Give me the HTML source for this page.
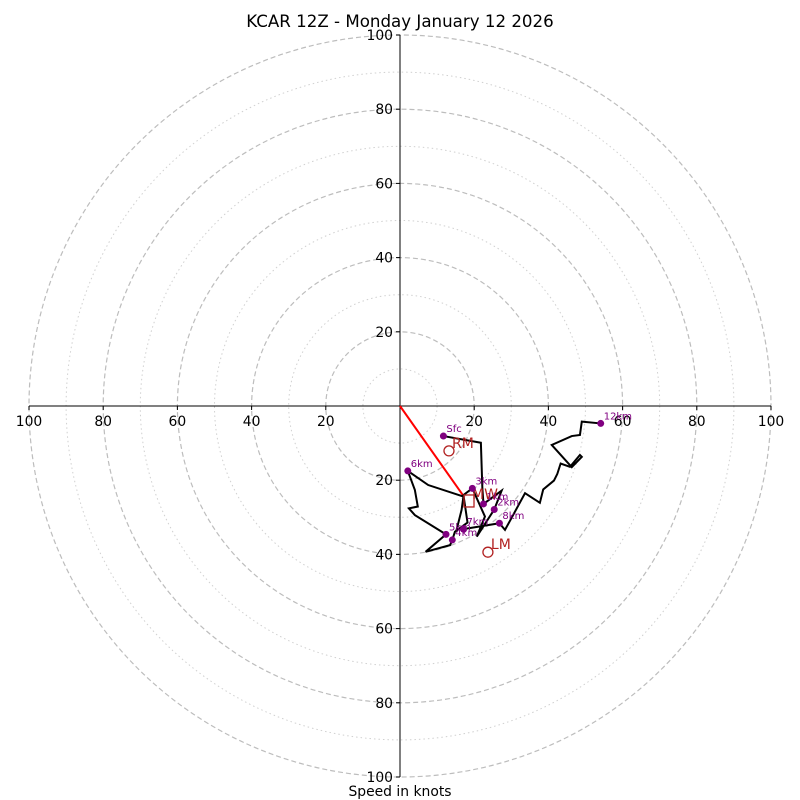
<!DOCTYPE html>
<html><head><meta charset="utf-8"><style>
html,body{margin:0;padding:0;background:#fff;}
svg{display:block;font-family:"DejaVu Sans","Liberation Sans",sans-serif;}
</style></head><body>
<svg id="chart" width="800" height="800" viewBox="0 0 800 800">
<text x="400" y="27" text-anchor="middle" font-size="16.67" fill="#000">KCAR 12Z - Monday January 12 2026</text>
<text x="400" y="796" text-anchor="middle" font-size="13.9" fill="#000">Speed in knots</text>
<g id="rings"></g><g id="axes"></g><g id="plot"></g>
</svg>
<script>
const ringValues=[10,20,30,40,50,60,70,80,90,100];
const tickValues=[20,40,60,80,100];
const windU=[11.7,21.8,22.2,22.5,27.4,25.4,20.7,22.9,19.5,17.1,18.2,14.8,14.1,13.5,6.9,12.4,4.0,2.4,4.8,4.0,2.1,7.6,17.1,16.6,15.3,17.1,26.8,28.3,33.7,37.7,38.6,41.5,42.4,43.3,45.8,48.5,49.0,46.3,40.9,46.3,48.5,49.0,54.1];
const windV=[-8.1,-9.9,-22.2,-26.4,-22.8,-27.9,-35.2,-29.8,-22.2,-24.0,-31.4,-33.9,-36.1,-37.5,-39.3,-34.6,-29.4,-27.6,-27.1,-22.6,-17.5,-21.3,-24.4,-28.0,-33.2,-33.2,-31.6,-33.4,-23.5,-26.1,-22.5,-20.1,-18.3,-15.5,-16.4,-13.2,-13.7,-16.5,-10.5,-8.1,-7.8,-4.2,-4.7];
const levelLabels=["Sfc","1km","2km","3km","4km","5km","6km","7km","8km","12km"];
const levelIndex=[0,3,5,8,12,15,20,25,26,42];
const stormNames=["RM","LM","MW"];
const stormU=[13.2,23.7,18.6];
const stormV=[-12.1,-39.4,-25.6];
const shearU=17.3, shearV=-24.5;

const cx=400, cy=406, R=371, maxV=100;
const sx=u=>cx+u*R/maxV, sy=v=>cy-v*R/maxV;
const NS='http://www.w3.org/2000/svg';
function mk(tag,attrs,parent){const e=document.createElementNS(NS,tag);for(const k in attrs)e.setAttribute(k,attrs[k]);parent.appendChild(e);return e;}
const rings=document.getElementById('rings'),axes=document.getElementById('axes'),plot=document.getElementById('plot');
ringValues.forEach(r=>{
  const major=r%20===0;
  const c=mk('circle',{cx:cx,cy:cy,r:r*R/maxV,fill:'none',stroke:major?'#bdbdbd':'#d0d0d0','stroke-width':major?1.2:1,'stroke-dasharray':major?'5,3':'1.5,3'},rings);
  
  
});
let l=mk('line',{x1:sx(-100),y1:cy,x2:sx(100),y2:cy,stroke:'#000','stroke-width':1},axes);


l=mk('line',{x1:cx,y1:sy(100),x2:cx,y2:sy(-100),stroke:'#000','stroke-width':1},axes);


tickValues.forEach(t=>{
  [t,-t].forEach(s=>{
    mk('line',{x1:sx(s),y1:cy,x2:sx(s),y2:cy+4,stroke:'#000'},axes);
    let tx=mk('text',{x:sx(s),y:cy+20,'text-anchor':'middle','font-size':13.9},axes);
    tx.textContent=t;
    
    
    mk('line',{x1:cx-4,y1:sy(s),x2:cx,y2:sy(s),stroke:'#000'},axes);
    let ty=mk('text',{x:cx-7,y:sy(s)+5,'text-anchor':'end','font-size':13.9},axes);
    ty.textContent=t;
    
    
  });
});
let sh=mk('line',{x1:sx(0),y1:sy(0),x2:sx(shearU),y2:sy(shearV),stroke:'#ff0000','stroke-width':2},plot);


let pts=windU.map((u,i)=>sx(u)+','+sy(windV[i])).join(' ');
let pl=mk('polyline',{points:pts,fill:'none',stroke:'#000','stroke-width':2,'stroke-linejoin':'miter'},plot);


stormNames.forEach((n,i)=>{
  const x=sx(stormU[i]),y=sy(stormV[i]);
  let m;
  if(n==='MW') m=mk('rect',{x:x-5,y:y-6,width:10,height:12,fill:'none',stroke:'#b22222','stroke-width':1.3},plot);
  else m=mk('circle',{cx:x,cy:y,r:5,fill:'none',stroke:'#b22222','stroke-width':1.3},plot);
  
  
  let t=mk('text',{x:x+3,y:y-2+(n==='MW'?0:-1),'font-size':14,fill:'#b22222'},plot);
  t.textContent=n;
  
  
});
levelIndex.forEach((idx,i)=>{
  const x=sx(windU[idx]),y=sy(windV[idx]);
  let d=mk('circle',{cx:x,cy:y,r:3.5,fill:'#800080'},plot);
  
  
  let t=mk('text',{x:x+3,y:y-4,'font-size':10,fill:'#800080'},plot);
  t.textContent=levelLabels[i];
  
  
});
</script>
</body></html>
